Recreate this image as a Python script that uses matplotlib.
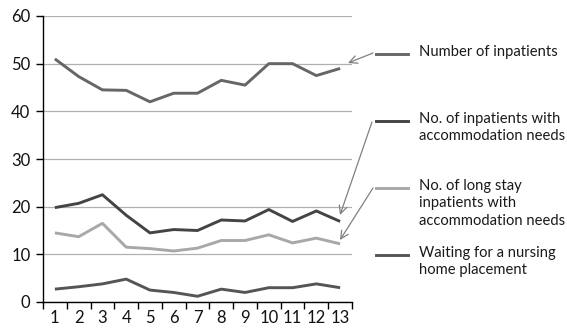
import matplotlib
matplotlib.use("Agg")
import matplotlib.pyplot as plt
from matplotlib.lines import Line2D

# data
periods = list(range(1, 14))
inpatients = [51, 47.3, 44.5, 44.4, 42, 43.8, 43.8, 46.5, 45.5, 50, 50, 47.5, 49]
accom_needs = [19.8, 20.7, 22.5, 18.2, 14.5, 15.2, 15, 17.2, 17, 19.4, 16.9, 19.1, 16.9]
long_stay = [14.5, 13.7, 16.5, 11.5, 11.2, 10.7, 11.3, 12.9, 12.9, 14.1, 12.4, 13.4, 12.2]
waiting = [2.7, 3.2, 3.8, 4.8, 2.5, 2.0, 1.2, 2.7, 2.0, 3.0, 3.0, 3.8, 3.0]

labels = ["Number of inpatients",
          "No. of inpatients with\naccommodation needs",
          "No. of long stay\ninpatients with\naccommodation needs",
          "Waiting for a nursing\nhome placement"]
colors = ["#666666", "#444444", "#a8a8a8", "#555555"]
series = [inpatients, accom_needs, long_stay, waiting]

plt.rcParams['font.family'] = ['Lato', 'DejaVu Sans']

W, H = 567, 334
fig = plt.figure(figsize=(W / 100, H / 100), dpi=100)
ax = fig.add_axes([43 / W, 1 - 302 / H, (352 - 43) / W, (302 - 16) / H])

for vals, c in zip(series, colors):
    ax.plot(periods, vals, color=c, lw=2.1, solid_capstyle='butt', zorder=3)

ax.set_xlim(0.5, 13.5)
ax.set_ylim(0, 60)
ax.set_yticks(range(0, 61, 10))
ax.yaxis.grid(True, color="#b0b0b0", lw=0.9)
ax.set_axisbelow(True)
ax.set_xticks([p + 0.5 for p in range(0, 14)], minor=True)
ax.set_xticks(periods)
ax.set_xticklabels([str(p) for p in periods])
ax.tick_params(axis='x', which='major', length=0, labelsize=12, pad=6,
               labelcolor='#111111')
ax.tick_params(axis='x', which='minor', length=5, width=1, direction='out')
ax.tick_params(axis='y', length=5, width=1, labelsize=12, pad=4,
               labelcolor='#111111')
for s in ['top', 'right']:
    ax.spines[s].set_visible(False)
for s in ['left', 'bottom']:
    ax.spines[s].set_color('black')
    ax.spines[s].set_linewidth(1.0)

# hand-made legend on the right
legend_y = [54, 121, 188, 255]
for lab, c, ly in zip(labels, colors, legend_y):
    fig.add_artist(Line2D([376 / W, 408 / W], [1 - ly / H, 1 - ly / H],
                          color=c, lw=2.1, transform=fig.transFigure))
    fig.text(419 / W, 1 - (ly - 9) / H, lab, fontsize=10.6, va='top',
             ha='left', linespacing=1.3, color='#1a1a1a')

arrows = [((373, 53), (348, 63)),
          ((372, 122), (340, 215)),
          ((373, 188), (340, 240))]
for (x0, y0), (x1, y1) in arrows:
    ax.annotate("", xy=(x1, H - y1), xycoords='figure pixels',
                xytext=(x0, H - y0), textcoords='figure pixels',
                arrowprops=dict(arrowstyle='->', color='#808080', lw=0.9,
                                mutation_scale=14, shrinkA=0, shrinkB=0),
                annotation_clip=False)

fig.savefig("out.png", dpi=100)
